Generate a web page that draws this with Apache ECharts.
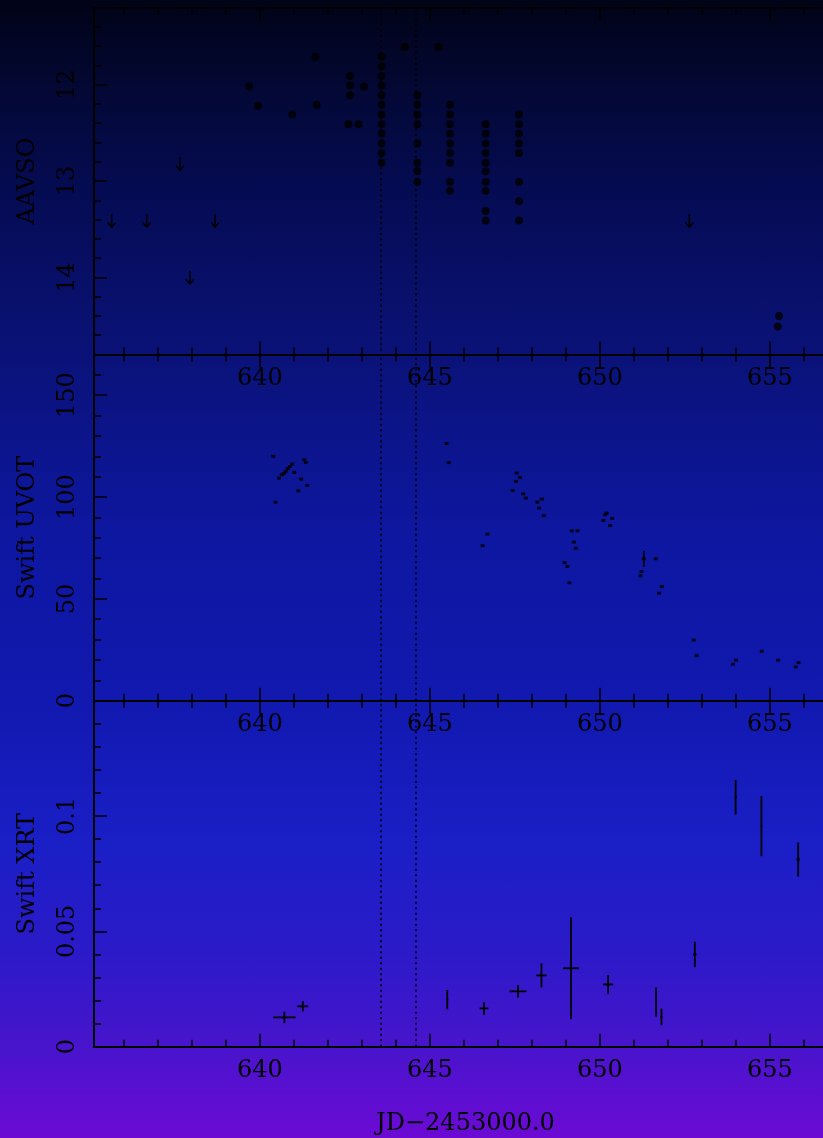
<!DOCTYPE html>
<html>
<head>
<meta charset="utf-8">
<script src="https://cdn.jsdelivr.net/npm/echarts@6/dist/echarts.min.js"></script>
<style>
html,body{margin:0;padding:0;overflow:hidden;}
#c{width:823px;height:1138px;background:linear-gradient(to bottom,#010316 0%,#030835 8%,#050b50 16%,#0a1278 31%,#0e17a0 47%,#1119b0 62%,#1a1fc6 74%,#2c1ac8 84%,#4814cc 92%,#6c0ad4 100%);}
</style>
</head>
<body>
<div id="c"></div>
<script>
// ---- data ----
const xRange = [635.12, 656.56];
const xMinorTicks = [636,637,638,639,640,641,642,643,644,645,646,647,648,649,650,651,652,653,654,655,656];
const xMajorTicks = [640,645,650,655];
const refLines = [643.55, 644.57];

const aavsoRange = [11.2, 14.8];
const aavsoMinorTicks = [11.4,11.6,11.8,12.0,12.2,12.4,12.6,12.8,13.0,13.2,13.4,13.6,13.8,14.0,14.2,14.4,14.6];
const aavsoMajorTicks = [12,13,14];
const aavsoObs = [
  [639.68,12.02],[639.94,12.22],[640.95,12.31],[641.63,11.71],[641.67,12.21],
  [642.65,11.91],[642.65,12.01],[642.65,12.11],[642.60,12.41],[642.90,12.41],[643.06,12.02],
  [643.58,11.71],[643.58,11.81],[643.58,11.91],[643.58,12.01],[643.58,12.11],[643.58,12.21],
  [643.58,12.31],[643.58,12.41],[643.58,12.51],[643.58,12.61],[643.58,12.71],[643.58,12.81],
  [644.26,11.61],[645.26,11.61],
  [644.63,12.11],[644.63,12.21],[644.63,12.31],[644.63,12.41],[644.63,12.61],[644.63,12.81],[644.63,12.90],[644.63,13.01],
  [645.59,12.21],[645.59,12.31],[645.59,12.41],[645.59,12.51],[645.59,12.61],[645.59,12.71],[645.59,12.81],[645.59,13.01],[645.59,13.10],
  [646.64,12.41],[646.64,12.51],[646.64,12.61],[646.64,12.71],[646.64,12.81],[646.64,12.90],[646.64,13.01],[646.64,13.10],[646.64,13.31],[646.64,13.41],
  [647.62,12.31],[647.62,12.41],[647.62,12.51],[647.62,12.61],[647.62,12.71],[647.62,13.01],[647.62,13.21],[647.62,13.41],
  [655.27,14.40],[655.23,14.51]
];
const aavsoLimits = [
  [635.64,13.41],[636.67,13.41],[637.65,12.82],[637.94,14.00],[638.68,13.41],[652.63,13.41]
];

const uvotRange = [0, 170];
const uvotMinorTicks = [10,20,30,40,50,60,70,80,90,100,110,120,130,140,150,160];
const uvotMajorTicks = [0,50,100,150];
const uvotObs = [
  [640.39,120.0],[640.46,97.5],[640.56,109.3],[640.64,111.0],[640.70,111.5],[640.76,112.6],[640.82,114.0],
  [640.88,115.0],[640.95,116.2],[641.01,112.1],[641.21,108.8],[641.13,103.1],[641.30,118.3],[641.35,117.0],[641.39,105.7],
  [645.49,126.3],[645.55,116.9],[647.55,111.8],[647.65,109.6],[647.53,107.7],[647.43,103.2],[647.74,101.6],
  [647.82,99.5],[648.16,97.5],[648.29,99.0],[648.21,94.6],[648.35,90.8],[646.69,81.8],[646.55,76.1],
  [650.20,92.1],[650.15,91.3],[650.36,89.5],[650.10,88.5],[650.30,86.0],[649.17,83.4],[649.34,83.4],
  [649.23,77.9],[649.29,74.9],[648.96,67.8],[649.04,65.9],[649.10,57.9],[651.29,69.7],[651.64,69.7],
  [651.22,63.4],[651.19,61.3],[651.82,56.0],[651.74,52.8],[652.76,29.8],[652.84,22.1],[654.00,19.9],
  [653.91,17.9],[654.76,24.3],[655.24,19.9],[655.84,18.7],[655.76,16.6]
];
const uvotErr = [[651.29,69.7,3.9]];

const xrtRange = [0, 0.15];
const xrtMinorTicks = [0.01,0.02,0.03,0.04,0.05,0.06,0.07,0.08,0.09,0.10,0.11,0.12,0.13,0.14];
const xrtMajorTicks = [0,0.05,0.1];
// [x, rate, xerr, rateErr]
const xrtObs = [
  [640.72,0.0127,0.33,0.0025],[641.26,0.0175,0.16,0.0022],[645.51,0.0204,0.03,0.0042],
  [646.59,0.0166,0.13,0.0027],[647.59,0.0240,0.25,0.0027],[648.28,0.0309,0.15,0.0052],
  [649.15,0.0340,0.23,0.0221],[650.24,0.0270,0.15,0.0041],[651.65,0.0194,0.03,0.0063],
  [651.81,0.0129,0.03,0.0036],[652.79,0.0400,0.05,0.0055],[653.99,0.1082,0.04,0.0075],
  [654.75,0.0956,0.03,0.0130],[655.83,0.0812,0.05,0.0074]
];

const panelNames = ['AAVSO','Swift UVOT','Swift XRT'];
const xTitle = 'JD\u22122453000.0';

// ---- build ----
const FONT = 'DejaVu Serif';
const FS = 24;
const INK = '#000';
const grids = [
  {left:94, right:0, top:7.5, height:347},
  {left:94, right:0, top:354.5, height:346.2},
  {left:94, right:0, top:700.7, height:346}
];
const yDefs = [
  {range:aavsoRange, minor:aavsoMinorTicks, major:aavsoMajorTicks, inverse:true},
  {range:uvotRange, minor:uvotMinorTicks, major:uvotMajorTicks, inverse:false},
  {range:xrtRange, minor:xrtMinorTicks, major:xrtMajorTicks, inverse:false}
];

const xAxis = [], yAxis = [];
grids.forEach((g, i) => {
  ['bottom','top'].forEach(pos => {
    xAxis.push({
      type:'value', gridIndex:i, position:pos, min:xRange[0], max:xRange[1],
      axisLine:{show:true, onZero:false, lineStyle:{color:INK, width:2}},
      axisTick:{show:true, inside:true, length:7, customValues:xMinorTicks, lineStyle:{color:INK, width:1.5}},
      axisLabel:{show:pos==='bottom', customValues:xMajorTicks, margin:12, color:INK, fontFamily:FONT, fontSize:FS},
      splitLine:{show:false},
      name: (pos==='bottom' && i===2) ? xTitle : '',
      nameLocation:'middle', nameGap:77,
      nameTextStyle:{color:INK, fontFamily:FONT, fontSize:FS, verticalAlign:'middle', padding:[0,0,0,14]}
    });
    xAxis.push({
      type:'value', gridIndex:i, position:pos, min:xRange[0], max:xRange[1],
      axisLine:{show:false, onZero:false},
      axisTick:{show:true, inside:true, length:13, customValues:xMajorTicks, lineStyle:{color:INK, width:1.5}},
      axisLabel:{show:false}, splitLine:{show:false}
    });
  });
  const d = yDefs[i];
  yAxis.push({
    type:'value', gridIndex:i, position:'left', min:d.range[0], max:d.range[1], inverse:d.inverse,
    axisLine:{show:true, onZero:false, lineStyle:{color:INK, width:2}},
    axisTick:{show:true, inside:true, length:7, customValues:d.minor, lineStyle:{color:INK, width:1.5}},
    axisLabel:{show:false}, splitLine:{show:false}
  });
  yAxis.push({
    type:'value', gridIndex:i, position:'left', min:d.range[0], max:d.range[1], inverse:d.inverse,
    axisLine:{show:false, onZero:false},
    axisTick:{show:true, inside:true, length:13, customValues:d.major, lineStyle:{color:INK, width:1.5}},
    axisLabel:{show:true, customValues:d.major, rotate:90, align:'center', verticalAlign:'middle', margin:26,
      color:INK, fontFamily:FONT, fontSize:FS, formatter:v => String(+v.toFixed(4))},
    splitLine:{show:false},
    name:panelNames[i], nameLocation:'middle', nameGap:66, nameRotate:90,
    nameTextStyle:{color:INK, fontFamily:FONT, fontSize:FS, align:'center', verticalAlign:'middle'}
  });
});

const refMark = {
  silent:true, symbol:['none','none'], label:{show:false},
  lineStyle:{color:INK, type:[2,3.5], width:1.6},
  data: refLines.map(v => ({xAxis:v}))
};

function arrowItem(params, api){
  const p = api.coord([api.value(0), api.value(1)]);
  return {type:'group', children:[
    {type:'line', shape:{x1:p[0], y1:p[1]-6.5, x2:p[0], y2:p[1]+6.5}, style:{stroke:INK, lineWidth:1.5}},
    {type:'polyline', shape:{points:[[p[0]-4,p[1]+2],[p[0],p[1]+6.5],[p[0]+4,p[1]+2]]}, style:{stroke:INK, fill:null, lineWidth:1.5}}
  ]};
}
function vErrItem(params, api){
  const x = api.value(0), y = api.value(1), e = api.value(2);
  const t = api.coord([x, y+e]), b = api.coord([x, y-e]);
  return {type:'line', shape:{x1:t[0], y1:t[1], x2:b[0], y2:b[1]}, style:{stroke:INK, lineWidth:1.6}};
}
function xyErrItem(params, api){
  const x = api.value(0), y = api.value(1), xe = api.value(2), ye = api.value(3);
  const l = api.coord([x-xe, y]), r = api.coord([x+xe, y]);
  const t = api.coord([x, y+ye]), b = api.coord([x, y-ye]);
  return {type:'group', children:[
    {type:'line', shape:{x1:l[0], y1:l[1], x2:r[0], y2:r[1]}, style:{stroke:INK, lineWidth:1.8}},
    {type:'line', shape:{x1:t[0], y1:t[1], x2:b[0], y2:b[1]}, style:{stroke:INK, lineWidth:1.8}}
  ]};
}

const series = [
  {type:'scatter', xAxisIndex:0, yAxisIndex:0, data:aavsoObs, symbol:'circle', symbolSize:8,
   itemStyle:{color:INK}, markLine:refMark, silent:true},
  {type:'custom', xAxisIndex:0, yAxisIndex:0, data:aavsoLimits, renderItem:arrowItem, encode:{x:0,y:1}, silent:true},
  {type:'scatter', xAxisIndex:4, yAxisIndex:2, data:uvotObs, symbol:'rect', symbolSize:[4,3],
   itemStyle:{color:INK}, markLine:refMark, silent:true},
  {type:'custom', xAxisIndex:4, yAxisIndex:2, data:uvotErr, renderItem:vErrItem, encode:{x:0,y:1}, silent:true},
  {type:'custom', xAxisIndex:8, yAxisIndex:4, data:xrtObs, renderItem:xyErrItem, encode:{x:0,y:1},
   markLine:refMark, silent:true}
];

const chart = echarts.init(document.getElementById('c'), null, {renderer:'canvas'});
chart.setOption({
  backgroundColor:'transparent',
  animation:false,
  grid:grids,
  xAxis:xAxis,
  yAxis:yAxis,
  series:series
});
</script>
</body>
</html>
